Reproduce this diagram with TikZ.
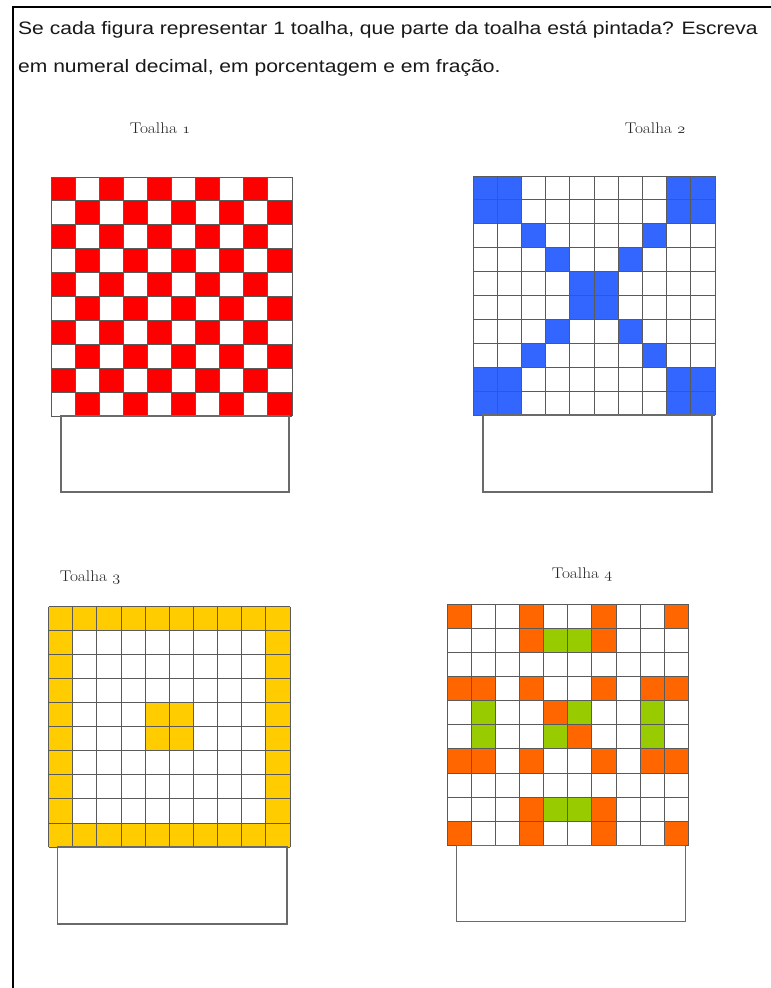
\documentclass[tikz,border=0pt]{standalone}
\usepackage{fontspec}
\newfontfamily\arialfont{Liberation Sans}
\usepackage{xcolor}
\definecolor{toalhaRed}{HTML}{FF0000}
\definecolor{toalhaBlue}{HTML}{3366FF}
\definecolor{toalhaYellow}{HTML}{FFCC00}
\definecolor{toalhaOrange}{HTML}{FF6600}
\definecolor{toalhaGreen}{HTML}{99CC00}
\definecolor{gridLine}{HTML}{5A5A5A}
\definecolor{boxLine}{HTML}{6A6A6A}

\begin{document}
\begin{tikzpicture}[x=1pt, y=-1pt,
    gridline/.style={draw=gridLine, line width=0.9pt},
    answerbox/.style={draw=boxLine, line width=1.5pt, fill=white},
    header/.style={anchor=base west, inner sep=0pt, text=black!90, font=\arialfont\fontsize{18}{20}\selectfont},
    toalhalabel/.style={anchor=base, inner sep=0pt, text=black!85, font=\fontsize{15.5}{17}\selectfont}]
  \useasboundingbox (0,0) rectangle (771,988);
  \fill[white] (0,0) rectangle (771,988);
  \draw[line width=2pt] (13,988) -- (13,7) -- (771,7);

  \node[header] (q1) at (18,34) {\scalebox{1.17}[1]{Se cada figura representar 1 toalha, que parte da toalha está pintada? Escreva}};
  \node[header] (q2) at (18,72) {\scalebox{1.17}[1]{em numeral decimal, em porcentagem e em fração.}};

  \node[toalhalabel] (lbl1) at (160,133) {\scalebox{1.12}[1]{Toalha $\mathnormal{1}$}};
  \node[toalhalabel] (lbl2) at (655,133) {\scalebox{1.12}[1]{Toalha $\mathnormal{2}$}};
  \node[toalhalabel] (lbl3) at (90,581) {\scalebox{1.12}[1]{Toalha $\mathnormal{3}$}};
  \node[toalhalabel] (lbl4) at (582,578) {\scalebox{1.12}[1]{Toalha $\mathnormal{4}$}};

  % Toalha 1
  \begin{scope}[shift={(51,177)}, x=24.1pt, y=-23.9pt]
    \foreach \r in {0,...,9}
      \foreach \c in {0,...,9} {
        \pgfmathtruncatemacro{\odd}{mod(\r+\c,2)}
        \ifnum\odd=0 \fill[toalhaRed] (\c,\r) rectangle +(1,1); \fi
      }
    \foreach \i in {0,...,10} {
      \draw[gridline] (\i,0) -- (\i,10);
      \draw[gridline] (0,\i) -- (10,\i);
    }
  \end{scope}
  \draw[answerbox] (61,416) rectangle (289,492);

  % Toalha 2
  \begin{scope}[shift={(473,176)}, x=24.2pt, y=-23.9pt]
    \foreach \r/\c in {0/0,0/1,1/0,1/1,0/8,0/9,1/8,1/9,8/0,8/1,9/0,9/1,8/8,8/9,9/8,9/9,
                       2/2,2/7,3/3,3/6,4/4,4/5,5/4,5/5,6/3,6/6,7/2,7/7}
      \fill[toalhaBlue] (\c,\r) rectangle +(1,1);
    \foreach \i in {0,...,10} {
      \draw[gridline] (\i,0) -- (\i,10);
      \draw[gridline] (0,\i) -- (10,\i);
    }
  \end{scope}
  \draw[answerbox] (483,415) rectangle (712,492);

  % Toalha 3
  \begin{scope}[shift={(48.5,606.5)}, x=24.15pt, y=-24.05pt]
    \foreach \i in {0,...,9} {
      \fill[toalhaYellow] (\i,0) rectangle +(1,1);
      \fill[toalhaYellow] (\i,9) rectangle +(1,1);
      \fill[toalhaYellow] (0,\i) rectangle +(1,1);
      \fill[toalhaYellow] (9,\i) rectangle +(1,1);
    }
    \fill[toalhaYellow] (4,4) rectangle (6,6);
    \foreach \i in {0,...,10} {
      \draw[gridline] (\i,0) -- (\i,10);
      \draw[gridline] (0,\i) -- (10,\i);
    }
  \end{scope}
  \draw[answerbox] (57.5,847) rectangle (287,924);

  % Toalha 4
  \begin{scope}[shift={(447,604)}, x=24.15pt, y=-24.15pt]
    \foreach \r/\c in {0/0,0/3,0/6,0/9,1/3,1/6,3/0,3/1,3/3,3/6,3/8,3/9,4/4,5/5,
                       6/0,6/1,6/3,6/6,6/8,6/9,8/3,8/6,9/0,9/3,9/6,9/9}
      \fill[toalhaOrange] (\c,\r) rectangle +(1,1);
    \foreach \r/\c in {1/4,1/5,4/1,4/5,4/8,5/1,5/4,5/8,8/4,8/5}
      \fill[toalhaGreen] (\c,\r) rectangle +(1,1);
    \foreach \i in {0,...,10} {
      \draw[gridline] (\i,0) -- (\i,10);
      \draw[gridline] (0,\i) -- (10,\i);
    }
  \end{scope}
  \draw[answerbox] (456.5,845.5) rectangle (685.5,921.5);
\end{tikzpicture}
\end{document}
